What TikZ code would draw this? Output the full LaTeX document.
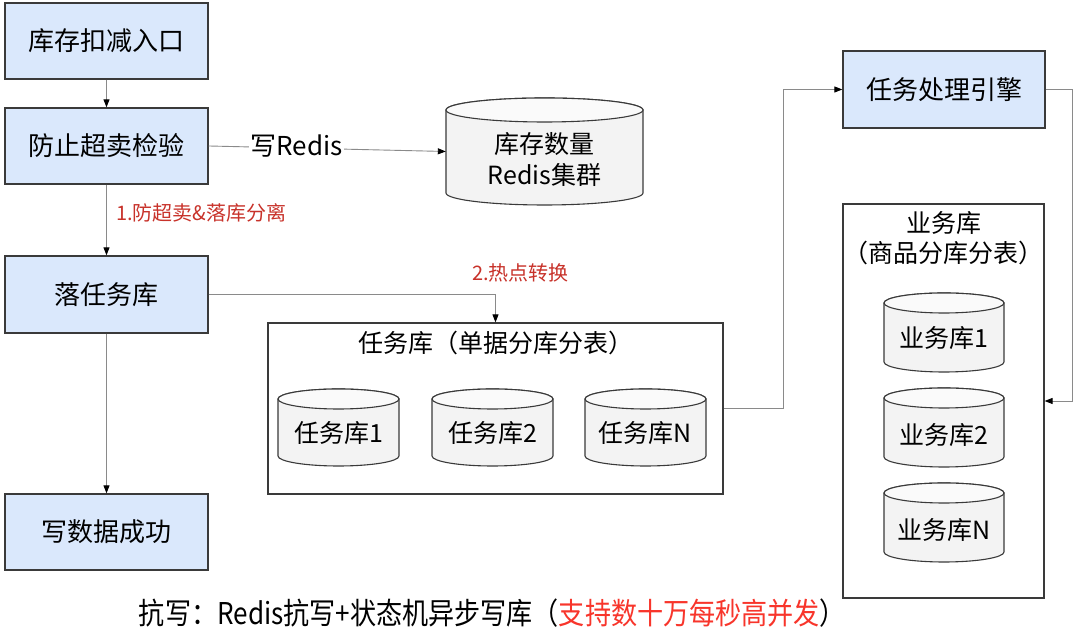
\documentclass[tikz,border=0pt]{standalone}
\usepackage{fontspec}
\setmainfont{Noto Sans CJK SC}
\usetikzlibrary{arrows.meta}
\definecolor{boxblue}{HTML}{DAE8FC}
\definecolor{boxline}{HTML}{3A3A3A}
\definecolor{cylfill}{HTML}{F3F3F3}
\definecolor{cyltopfill}{HTML}{FAFAFA}
\definecolor{linegray}{HTML}{8A8A8A}
\definecolor{labelred}{HTML}{C8322A}
\definecolor{brightred}{HTML}{F8352B}
\tikzset{
 bluebox/.style={draw=boxline, line width=1.3pt, fill=boxblue, minimum width=203pt, minimum height=76pt, font=\fontsize{26}{30}\selectfont, inner sep=0},
 container/.style={draw=boxline, line width=1.2pt, fill=white, inner sep=0},
 cylline/.style={draw=boxline, line width=1.1pt, fill=cylfill},
 cyltop/.style={draw=boxline, line width=1.1pt, fill=cyltopfill},
 cyltext/.style={font=\fontsize{25}{31}\selectfont, inner sep=0, align=center},
 titletext/.style={font=\fontsize{25}{30}\selectfont, inner sep=0},
 conn/.style={draw=linegray, line width=0.9pt, -{Triangle[length=8pt,width=6pt,color=black]}},
 redlabel/.style={text=labelred, font=\fontsize{20}{24}\selectfont, inner sep=0},
}
% #1 name, #2 cx, #3 top y, #4 bottom y, #5 width, #6 ry, #7 text y, #8 text
\newcommand\dbcyl[8]{%
 \pgfmathsetmacro\dbl{#2-#5/2}%
 \pgfmathsetmacro\dbr{#2+#5/2}%
 \pgfmathsetmacro\dbrx{#5/2}%
 \pgfmathsetmacro\dbt{#3-#6}%
 \pgfmathsetmacro\dbb{#4+#6}%
 \node[inner sep=0, minimum width=#5pt, minimum height={(#3-#4)*1pt}] (#1) at (#2,{(#3+#4)/2}) {};
 \filldraw[cylline] (\dbl,\dbt) -- (\dbl,\dbb) arc[start angle=180,end angle=360,x radius=\dbrx,y radius=#6] -- (\dbr,\dbt) arc[start angle=0,end angle=180,x radius=\dbrx,y radius=#6] -- cycle;
 \filldraw[cyltop] (#2,\dbt) ellipse[x radius=\dbrx, y radius=#6];
 \node[cyltext] (#1-t) at (#2,#7) {#8};
}
\begin{document}
\begin{tikzpicture}[x=1pt,y=1pt]
\useasboundingbox (0,0) rectangle (1080,636);
\fill[white] (0,0) rectangle (1080,636);

% left column
\node[bluebox] (b1) at (106.5,595) {库存扣减入口};
\node[bluebox] (b2) at (106.5,490) {防止超卖检验};
\node[bluebox, minimum height=77pt] (b3) at (106.5,341.5) {落任务库};
\node[bluebox] (b4) at (106.5,104) {写数据成功};

% redis cylinder
\dbcyl{redis}{544.5}{538}{431}{197}{12}{476}{库存数量\\Redis集群}

% task db container
\node[container, minimum width=455pt, minimum height=171pt] (tbox) at (495.5,227.5) {};
\node[titletext] (ttitle) at (495.5,293) {任务库（单据分库分表）};
\dbcyl{t1}{338.5}{247}{170}{121}{10}{203}{任务库1}
\dbcyl{t2}{492.5}{247}{170}{121}{10}{203}{任务库2}
\dbcyl{tn}{645.5}{247}{170}{121}{10}{203}{任务库N}

% engine
\node[bluebox, minimum width=202pt, minimum height=77pt] (engine) at (944,546.5) {任务处理引擎};

% business db container
\node[container, minimum width=201pt, minimum height=394pt] (ybox) at (943.5,235) {};
\node[titletext] (ytitle1) at (943.5,413) {业务库};
\node[titletext] (ytitle2) at (943.5,383) {（商品分库分表）};
\dbcyl{y1}{944}{343}{264}{120}{10}{298}{业务库1}
\dbcyl{y2}{944}{248}{169}{120}{10}{201}{业务库2}
\dbcyl{yn}{944}{153}{74}{120}{10}{106}{业务库N}

% connectors
\draw[conn] (b1.south) -- (b2.north);
\draw[conn] (b2.south) -- (b3.north);
\draw[conn] (b3.south) -- (b4.north);
\draw[conn] (b2.east) -- (redis.west);
\draw[conn] (b3.east) -| (tbox.north);
\draw[conn] (tbox.east) -- ++(60,0) |- (engine.west);
\draw[conn] (engine.east) -- ++(27,0) |- (ybox.east);

% labels
\node[font=\fontsize{26}{30}\selectfont, fill=white, inner sep=1pt] (lredis) at (296.5,490) {写Redis};
\node[redlabel, anchor=west] (l1) at (116,423) {1.防超卖\&落库分离};
\node[redlabel, anchor=west] (l2) at (472,363) {2.热点转换};

% bottom caption
\node[inner sep=0, font=\fontsize{30}{34}\selectfont] (caption) at (492.5,23) {\resizebox{707pt}{\height}{抗写：Redis抗写+状态机异步写库（\textcolor{brightred}{支持数十万每秒高并发}）}};
\end{tikzpicture}
\end{document}
